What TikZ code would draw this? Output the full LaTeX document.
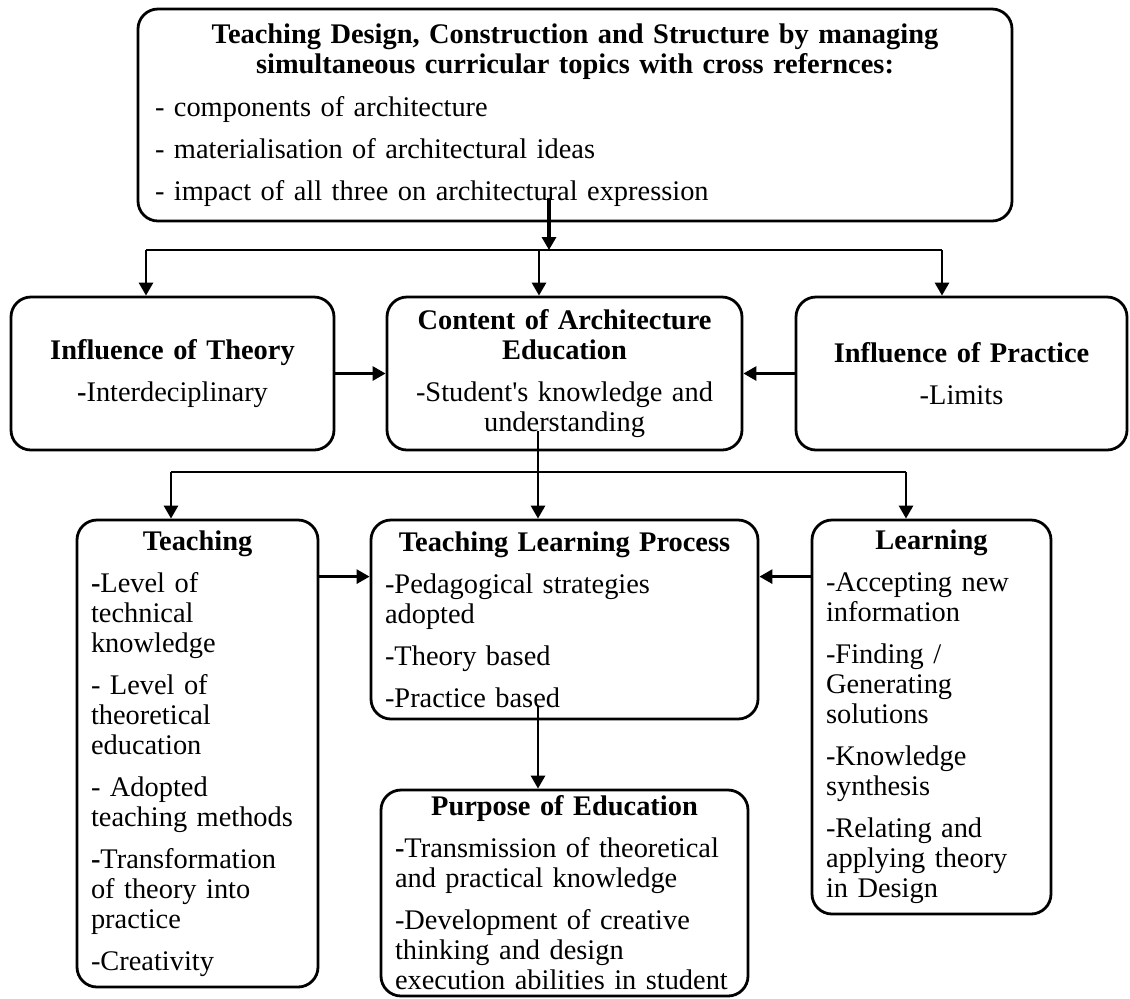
\documentclass[tikz,border=0pt]{standalone}
\usepackage{fontspec}
\setmainfont{Liberation Serif}
\usetikzlibrary{arrows.meta}
\newcommand{\hd}[1]{\makebox[\hsize][c]{\bfseries #1}}
\begin{document}
\begin{tikzpicture}[
    x=0.5pt, y=-0.5pt,
    box/.style={rectangle, draw, line width=1.4pt, rounded corners=10pt, inner xsep=7pt, inner ysep=0pt, align=left, font=\fontsize{14.2}{15}\selectfont},
    arrow/.style={-{Triangle[length=6.5pt,width=7pt]}, line width=1.4pt},
]
\path[use as bounding box, fill=white] (0,0) rectangle (1130,998);

\node[box, inner xsep=8.5pt, text width=420pt, minimum height=106pt] (top) at (575,115) {\hd{Teaching Design, Construction and Structure by managing}\\\hd{simultaneous curricular topics with cross refernces:}\\[6.5pt]- components of architecture\\[6pt]- materialisation of architectural ideas\\[6pt]- impact of all three on architectural expression};
\node[box, align=center, text width=147.5pt, minimum height=76.5pt] (theory) at (172.5,373.5) {\textbf{Influence of Theory}\\[6pt]\textbf{-}Interdeciplinary};
\node[box, align=center, text width=163.5pt, minimum height=76.5pt] (content) at (564.5,373.5) {\textbf{Content of Architecture}\\\textbf{Education}\\[6pt]-Student\textquotesingle s knowledge and\\understanding};
\node[box, align=center, text width=151.5pt, minimum height=76.5pt] (practice) at (961.5,373.5) {\textbf{Influence of Practice}\\[6pt]-Limits};
\node[box, text width=106.5pt, minimum height=233.5pt] (teaching) at (197.5,753.5) {\hd{Teaching}\\[6pt]\textbf{-}Level of\\technical\\knowledge\\[6pt]- Level of\\theoretical\\education\\[6pt]- Adopted\\teaching methods\\[6pt]\textbf{-}Transformation\\of theory into\\practice\\[6pt]-Creativity};
\node[box, text width=179.5pt, minimum height=99.5pt] (tlp) at (564.5,619.5) {\hd{Teaching Learning Process}\\[6pt]-Pedagogical strategies\\adopted\\[6pt]-Theory based\\[6pt]-Practice based};
\node[box, text width=105.5pt, minimum height=197pt] (learning) at (931.5,717) {\hd{Learning}\\[6pt]-Accepting new\\information\\[6pt]-Finding /\\Generating\\solutions\\[6pt]-Knowledge\\synthesis\\[6pt]-Relating and\\applying theory\\in Design};
\node[box, text width=169.5pt, minimum height=103pt] (purpose) at (564.5,893) {\hd{Purpose of Education}\\[6pt]\textbf{-}Transmission of theoretical\\and practical knowledge\\[6pt]-Development of creative\\thinking and design\\execution abilities in student};

% first split
\coordinate (split1) at (549,250);
\coordinate (s1l) at (146,250);
\coordinate (s1m) at (539,250);
\coordinate (s1r) at (942,250);
\coordinate (topout) at ([yshift=12pt]top.south);
\draw[arrow, line width=2pt] (topout -| split1) -- (split1);
\draw[line width=1.4pt] (s1l) -- (s1r);
\draw[arrow] (s1l) -- (s1l |- theory.north);
\draw[arrow] (s1m) -- (s1m |- content.north);
\draw[arrow] (s1r) -- (s1r |- practice.north);
\draw[arrow] (theory) -- (content);
\draw[arrow] (practice) -- (content);

% second split
\coordinate (split2) at (538,472);
\coordinate (s2l) at (171,472);
\coordinate (s2r) at (906,472);
\coordinate (contentout) at ([yshift=10pt]content.south);
\coordinate (tlpout) at ([yshift=7pt]tlp.south);
\coordinate (tlpl) at ([yshift=-29pt]tlp.north west);
\coordinate (tlpr) at ([yshift=-29pt]tlp.north east);
\draw[arrow] (contentout -| split2) -- (split2 |- tlp.north);
\draw[line width=1.4pt] (s2l) -- (s2r);
\draw[arrow] (s2l) -- (s2l |- teaching.north);
\draw[arrow] (s2r) -- (s2r |- learning.north);
\draw[arrow] (teaching.east |- tlpl) -- (tlpl);
\draw[arrow] (learning.west |- tlpr) -- (tlpr);
\draw[arrow] (tlpout -| split2) -- (split2 |- purpose.north);
\end{tikzpicture}
\end{document}
